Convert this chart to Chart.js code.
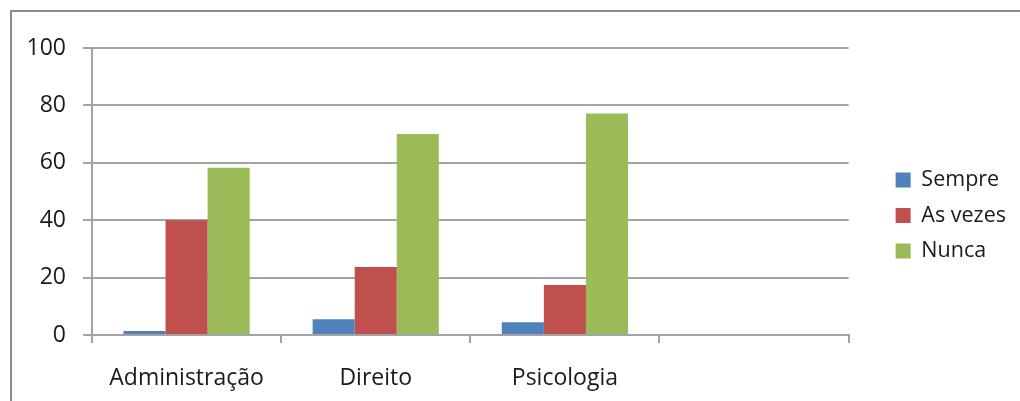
<!DOCTYPE html>
<html>
<head>
<meta charset="utf-8">
<script src="https://cdn.jsdelivr.net/npm/chart.js@4"></script>
<style>
  html, body { margin: 0; padding: 0; background: #fff; overflow: hidden; }
  #frame {
    position: absolute; left: 10px; top: 10px; width: 1030px; height: 410px;
    border-top: 2px solid #8c8c8c; border-left: 2px solid #8c8c8c;
  }
  #chart { position: absolute; left: 0; top: 0; }
</style>
</head>
<body>
<div id="frame"></div>
<canvas id="chart" width="1020" height="401"></canvas>
<script>
const categories = ["Administração", "Direito", "Psicologia", ""];
const sempre = [1.4, 5.5, 4.4, null];
const asVezes = [40, 23.7, 17.4, null];
const nunca = [58.3, 70, 77.2, null];
const yTicks = [0, 20, 40, 60, 80, 100];

const axisFont = { family: "'Open Sans'", size: 23 };
const legendFont = { family: "'Open Sans'", size: 21.5 };
const gridColor = "#a3a3a3";

const ctx = document.getElementById("chart");
new Chart(ctx, {
  type: "bar",
  data: {
    labels: categories,
    datasets: [
      { label: "Sempre", data: sempre, backgroundColor: "#4F81BD" },
      { label: "As vezes", data: asVezes, backgroundColor: "#C0504D" },
      { label: "Nunca", data: nunca, backgroundColor: "#9BBB59" },
    ],
  },
  options: {
    responsive: false,
    animation: false,
    categoryPercentage: 0.667,
    barPercentage: 1,
    layout: { padding: { top: 30, left: 0, right: 4, bottom: 0 } },
    scales: {
      x: {
        grid: { drawOnChartArea: false, tickLength: 8, color: gridColor, lineWidth: 2 },
        border: { color: gridColor, width: 2 },
        ticks: { font: axisFont, color: "#1a1a1a", padding: 22, maxRotation: 0 },
        afterFit: (scale) => { scale.height = 66; },
      },
      y: {
        min: 0,
        max: 100,
        afterBuildTicks: (scale) => { scale.ticks = yTicks.map((v) => ({ value: v })); },
        grid: { tickLength: 9, color: gridColor, lineWidth: 2 },
        border: { color: gridColor, width: 2 },
        ticks: { font: axisFont, color: "#1a1a1a", padding: 17 },
        afterFit: (scale) => { scale.width = 92; },
      },
      // empty space between the plot and the legend
      gap: {
        position: "right",
        display: true,
        grid: { display: false },
        border: { display: false },
        ticks: { display: false },
        afterFit: (scale) => { scale.width = 33; },
      },
    },
    plugins: {
      // empty title, only keeps the plot top lower than the legend's top
      title: { display: true, text: "", fullSize: false, padding: 0, font: { size: 15 } },
      legend: {
        position: "right",
        labels: { font: legendFont, color: "#1a1a1a", boxWidth: 15, boxHeight: 15, padding: 14 },
      },
      tooltip: { enabled: false },
    },
  },
});
</script>
</body>
</html>
